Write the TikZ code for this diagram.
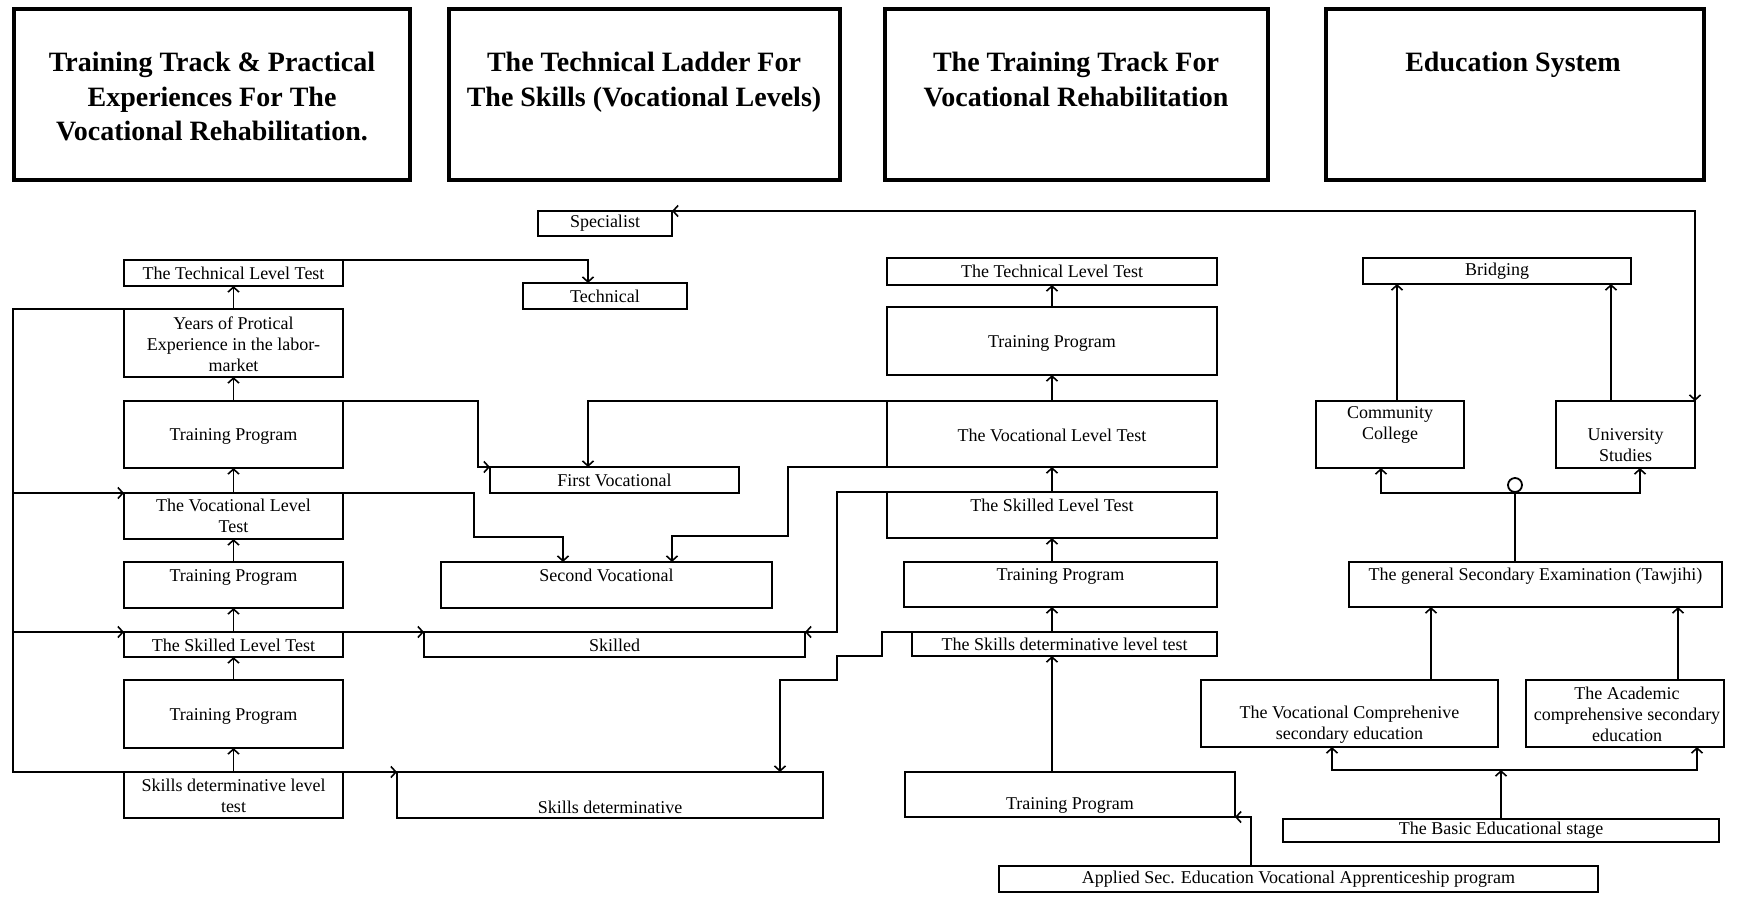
\documentclass[tikz,border=0pt]{standalone}
\usepackage{fontspec}
\setmainfont{Liberation Serif}
\usetikzlibrary{arrows.meta,calc}
\tikzset{
 box/.style={draw, line width=1.2pt, inner sep=0pt, outer sep=0pt, rectangle},
 hbox/.style={draw, line width=2pt, inner sep=0pt, outer sep=0pt, rectangle},
 lbl/.style={inner sep=0pt, align=center, font=\fontsize{9}{10.5}\selectfont},
 hlbl/.style={inner sep=0pt, align=center, anchor=north, font=\fontsize{14}{17.25}\selectfont\bfseries},
 ln/.style={line width=0.6pt},
 tip/.tip={Straight Barb[length=2.5pt,width=5.5pt,line width=0.8pt]},
 arr/.style={ln, -tip},
 arrb/.style={ln, tip-tip},
}
\newcommand\bx[6][]{\node[box,#1,minimum width={(#5-#3)*0.5pt},minimum height={(#6-#4)*0.5pt}] (#2) at ({(#3+#5)/2},{(#4+#6)/2}) {};}
\begin{document}
\begin{tikzpicture}[x=0.5pt,y=-0.5pt]
\useasboundingbox (0,0) rectangle (1742,896);
% headers
\bx[hbox]{H1}{14}{9}{410}{180}
\bx[hbox]{H2}{449}{9}{840}{180}
\bx[hbox]{H3}{885}{9}{1268}{180}
\bx[hbox]{H4}{1326}{9}{1704}{180}
\node[hlbl] (H1t) at (212,52) {Training Track \& Practical\\Experiences For The\\Vocational Rehabilitation.};
\node[hlbl] (H2t) at (644,52) {The Technical Ladder For\\The Skills (Vocational Levels)};
\node[hlbl] (H3t) at (1076,52) {The Training Track For\\Vocational Rehabilitation};
\node[hlbl] (H4t) at (1513,52) {Education System};
% left column
\bx{L1}{124}{260}{343}{286}
\bx{L2}{124}{309}{343}{377}
\bx{L3}{124}{401}{343}{468}
\bx{L4}{124}{493}{343}{539}
\bx{L5}{124}{562}{343}{608}
\bx{L6}{124}{632}{343}{657}
\bx{L7}{124}{680}{343}{748}
\bx{L8}{124}{772}{343}{818}
\node[lbl] (L1t) at (233.5,273) {The Technical Level Test};
\node[lbl] (L2t) at (233.5,344) {Years of Protical\\Experience in the labor-\\market};
\node[lbl] (L3t) at (233.5,436) {Training Program};
\node[lbl] (L4t) at (233.5,516) {The Vocational Level\\Test};
\node[lbl] (L5t) at (233.5,577) {Training Program};
\node[lbl] (L6t) at (233.5,645) {The Skilled Level Test};
\node[lbl] (L7t) at (233.5,716) {Training Program};
\node[lbl] (L8t) at (233.5,796) {Skills determinative level\\test};
% ladder column
\bx{Spec}{538}{211}{672}{236}
\bx{Tech}{523}{283}{687}{309}
\bx{FV}{490}{467}{739}{493}
\bx{SV}{441}{562}{772}{608}
\bx{Sk}{424}{632}{805}{657}
\bx{SD}{397}{772}{823}{818}
\node[lbl] (Spect) at (605,223) {Specialist};
\node[lbl] (Techt) at (605,296) {Technical};
\node[lbl] (FVt) at (614.5,480) {First Vocational};
\node[lbl] (SVt) at (606.5,575) {Second Vocational};
\node[lbl] (Skt) at (614.5,645) {Skilled};
\node[lbl] (SDt) at (610,807) {Skills determinative};
% training track column
\bx{R1}{887}{258}{1217}{285}
\bx{R2}{887}{307}{1217}{375}
\bx{R3}{887}{401}{1217}{467}
\bx{R4}{887}{492}{1217}{538}
\bx{R5}{904}{562}{1217}{607}
\bx{R6}{912}{632}{1217}{656}
\bx{R7}{905}{772}{1235}{817}
\bx{App}{999}{866}{1598}{892}
\node[lbl] (R1t) at (1052,271) {The Technical Level Test};
\node[lbl] (R2t) at (1052,343) {Training Program};
\node[lbl] (R3t) at (1052,435) {The Vocational Level Test};
\node[lbl] (R4t) at (1052,505) {The Skilled Level Test};
\node[lbl] (R5t) at (1060.5,576) {Training Program};
\node[lbl] (R6t) at (1064.5,644) {The Skills determinative level test};
\node[lbl] (R7t) at (1070,805) {Training Program};
\node[lbl] (Appt) at (1298.5,879) {Applied Sec. Education Vocational Apprenticeship program};
% education column
\bx{Br}{1363}{258}{1631}{284}
\bx{CC}{1316}{401}{1464}{468}
\bx{US}{1556}{401}{1695}{468}
\bx{Taw}{1349}{562}{1722}{607}
\bx{VC}{1201}{680}{1498}{747}
\bx{Ac}{1526}{680}{1724}{747}
\bx{Basic}{1283}{819}{1719}{842}
\node[lbl] (Brt) at (1497,271) {Bridging};
\node[lbl] (CCt) at (1390,424.5) {Community\\College};
\node[lbl] (USt) at (1625.5,445.5) {University\\Studies};
\node[lbl] (Tawt) at (1535.5,576) {The general Secondary Examination (Tawjihi)};
\node[lbl] (VCt) at (1349.5,725) {The Vocational Comprehenive\\secondary education};
\node[lbl] (Act) at (1627,714) {The Academic\\comprehensive secondary\\education};
\node[lbl] (Basict) at (1501,830) {The Basic Educational stage};
\node[draw, circle, line width=0.9pt, minimum size=7pt, inner sep=0pt] (circ) at (1515,485) {};
% left column arrows
\draw[arr] (L8.north) -- (L7.south);
\draw[arr] (L7.north) -- (L6.south);
\draw[arr] (L6.north) -- (L5.south);
\draw[arr] (L5.north) -- (L4.south);
\draw[arr] (L4.north) -- (L3.south);
\draw[arr] (L3.north) -- (L2.south);
\draw[arr] (L2.north) -- (L1.south);
\coordinate (lv1) at (13,309);
\coordinate (lv2) at (13,772);
\draw[ln] (L2.north west) -- (lv1) -- (lv2) -- (L8.north west);
\draw[arr] (lv1 |- L4.north) -- (L4.north west);
\draw[arr] (lv1 |- L6.north) -- (L6.north west);
\draw[arr] (L6.north east) -- (Sk.north west);
\draw[arr] (L8.north east) -- (SD.north west);
\draw[arr] (L1.north east) -| ($(Tech.north)+(-17,0)$);
\draw[arr] (L3.north east) -- ++(135,0) |- (FV.north west);
\draw[arr] (L4.north east) -- ++(131,0) -- ++(0,44) -| ($(SV.north)+(-43.5,0)$);
% training track arrows
\draw[arr] (R2.north) -- (R1.south);
\draw[arr] (R3.north) -- (R2.south);
\draw[arr] (R4.north) -- (R3.south);
\draw[arr] (R5.north -| R4.south) -- (R4.south);
\draw[arr] (R6.north -| R4.south) -- (R4.south |- R5.south);
\draw[arr] (R7.north -| R4.south) -- (R4.south |- R6.south);
\draw[arr] ($(App.north west)+(252,0)$) |- (R7.south east);
\draw[arr] (R3.north west) -| ($(FV.north)+(-26.5,0)$);
\draw[arr] (R3.south west) -- ++(-99,0) -- ++(0,69) -| ($(SV.north)+(65.5,0)$);
\draw[arr] (R4.north west) -- ++(-50,0) |- (Sk.north east);
\draw[arr] (R6.north west) -- ++(-30,0) -- ++(0,24) -- ++(-45,0) -- ++(0,24) -| ($(SD.north)+(170,0)$);
\draw[arrb] (Spec.north east) -| (US.north east);
% education arrows
\draw[arr] ($(CC.north)+(7,0)$) -- ($(Br.south west)+(34,0)$);
\draw[arr] ($(US.north)+(-14.5,0)$) -- ($(Br.south east)+(-20,0)$);
\draw[ln] (circ.south) -- (circ.south |- Taw.north);
\draw[arr] (circ.south) -| ($(CC.south)+(-9,0)$);
\draw[arr] (circ.south) -| ($(US.south)+(14.5,0)$);
\coordinate (vcT) at ($(VC.north)+(81.5,0)$);
\coordinate (acT) at ($(Ac.north)+(53,0)$);
\draw[arr] (vcT) -- (vcT |- Taw.south);
\draw[arr] (acT) -- (acT |- Taw.south);
\coordinate (bj) at ($(Basic.north)+(0,-49)$);
\draw[arr] (Basic.north) -- (bj);
\draw[arr] (bj) -| ($(VC.south)+(-17.5,0)$);
\draw[arr] (bj) -| ($(Ac.south)+(72,0)$);
\end{tikzpicture}
\end{document}
